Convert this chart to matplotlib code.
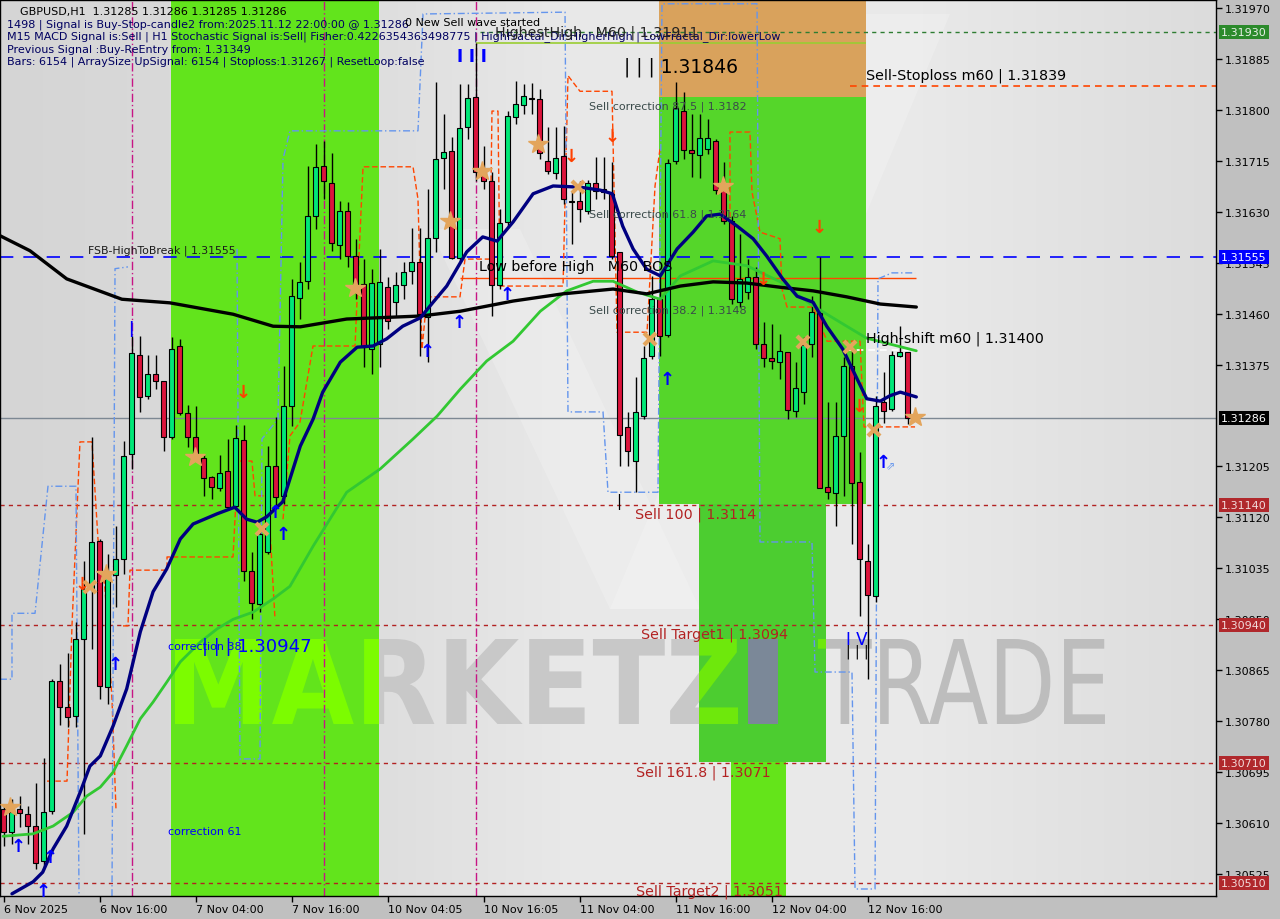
import numpy as np
import matplotlib
matplotlib.use("Agg")
import matplotlib.pyplot as plt
import matplotlib.transforms as mtransforms
from matplotlib.patches import Rectangle, PathPatch
from matplotlib.textpath import TextPath
from matplotlib.font_manager import FontProperties

# ------------------------------------------------------------------ data
time_label_bars = [0, 12, 24, 36, 48, 60, 72, 84, 96, 108]
time_labels = ["6 Nov 2025", "6 Nov 16:00", "7 Nov 04:00", "7 Nov 16:00", "10 Nov 04:05",
               "10 Nov 16:05", "11 Nov 04:00", "11 Nov 16:00", "12 Nov 04:00", "12 Nov 16:00"]

opens = [
    1.30633, 1.30595, 1.30633, 1.30625, 1.30605, 1.30547, 1.30630, 1.30847, 1.30804, 1.30789,
    1.30917, 1.31001, 1.31081, 1.30837, 1.31024, 1.31051, 1.31226, 1.31391, 1.31323, 1.31359,
    1.31348, 1.31254, 1.31406, 1.31294, 1.31254, 1.31219, 1.31187, 1.31169, 1.31197, 1.31139,
    1.31249, 1.31031, 1.30976, 1.31062, 1.31206, 1.31156, 1.31306, 1.31486, 1.31514, 1.31623,
    1.31706, 1.31678, 1.31574, 1.31631, 1.31556, 1.31509, 1.31401, 1.31409, 1.31504, 1.31479,
    1.31508, 1.31531, 1.31546, 1.31454, 1.31586, 1.31720, 1.31731, 1.31553, 1.31771, 1.31821,
    1.31696, 1.31681, 1.31508, 1.31613, 1.31788, 1.31808, 1.31820, 1.31818, 1.31715, 1.31695,
    1.31723, 1.31648, 1.31648, 1.31631, 1.31678, 1.31668, 1.31660, 1.31563, 1.31271, 1.31214,
    1.31289, 1.31389, 1.31484, 1.31424, 1.31715, 1.31798, 1.31733, 1.31725, 1.31735, 1.31748,
    1.31666, 1.31615, 1.31479, 1.31496, 1.31521, 1.31409, 1.31386, 1.31379, 1.31396, 1.31298,
    1.31329, 1.31409, 1.31461, 1.31171, 1.31161, 1.31256, 1.31373, 1.31179, 1.31047, 1.30989,
    1.31313, 1.31301, 1.31389, 1.31396]
highs = [
    1.30638, 1.30650, 1.30655, 1.30638, 1.30677, 1.30719, 1.30850, 1.30875, 1.30894, 1.30946,
    1.31047, 1.31254, 1.31084, 1.31059, 1.31106, 1.31247, 1.31423, 1.31423, 1.31391, 1.31391,
    1.31348, 1.31421, 1.31418, 1.31308, 1.31306, 1.31226, 1.31189, 1.31224, 1.31251, 1.31274,
    1.31274, 1.31062, 1.31106, 1.31239, 1.31287, 1.31373, 1.31518, 1.31546, 1.31706, 1.31743,
    1.31748, 1.31728, 1.31648, 1.31646, 1.31585, 1.31551, 1.31534, 1.31568, 1.31521, 1.31529,
    1.31546, 1.31603, 1.31603, 1.31668, 1.31846, 1.31793, 1.31755, 1.31843, 1.31843, 1.31911,
    1.31740, 1.31696, 1.31635, 1.31798, 1.31848, 1.31843, 1.31845, 1.31835, 1.31771, 1.31771,
    1.31773, 1.31665, 1.31681, 1.31683, 1.31721, 1.31721, 1.31713, 1.31563, 1.31296, 1.31354,
    1.31406, 1.31523, 1.31523, 1.31718, 1.31846, 1.31830, 1.31793, 1.31793, 1.31785, 1.31751,
    1.31713, 1.31623, 1.31593, 1.31551, 1.31538, 1.31446, 1.31443, 1.31426, 1.31396, 1.31379,
    1.31421, 1.31489, 1.31555, 1.31313, 1.31313, 1.31388, 1.31401, 1.31229, 1.31076, 1.31323,
    1.31363, 1.31398, 1.31439, 1.31396]
lows = [
    1.30572, 1.30575, 1.30603, 1.30575, 1.30533, 1.30533, 1.30625, 1.30774, 1.30770, 1.30770,
    1.30592, 1.30900, 1.30817, 1.30809, 1.30970, 1.31026, 1.31201, 1.31296, 1.31318, 1.31334,
    1.31231, 1.31251, 1.31291, 1.31238, 1.31214, 1.31156, 1.31151, 1.31164, 1.31134, 1.31134,
    1.31014, 1.30950, 1.30962, 1.31059, 1.31134, 1.31142, 1.31272, 1.31451, 1.31501, 1.31601,
    1.31651, 1.31564, 1.31551, 1.31538, 1.31484, 1.31371, 1.31359, 1.31371, 1.31434, 1.31456,
    1.31484, 1.31509, 1.31389, 1.31379, 1.31563, 1.31668, 1.31551, 1.31548, 1.31751, 1.31681,
    1.31668, 1.31456, 1.31501, 1.31605, 1.31776, 1.31793, 1.31793, 1.31718, 1.31693, 1.31685,
    1.31643, 1.31576, 1.31613, 1.31626, 1.31651, 1.31651, 1.31551, 1.31206, 1.31206, 1.31162,
    1.31284, 1.31384, 1.31389, 1.31421, 1.31710, 1.31718, 1.31688, 1.31686, 1.31726, 1.31660,
    1.31610, 1.31476, 1.31471, 1.31484, 1.31401, 1.31371, 1.31368, 1.31351, 1.31284, 1.31287,
    1.31309, 1.31388, 1.31169, 1.31151, 1.31106, 1.31156, 1.31076, 1.30955, 1.30850, 1.30979,
    1.31277, 1.31298, 1.31388, 1.31276]
closes = [
    1.30595, 1.30628, 1.30627, 1.30605, 1.30543, 1.30628, 1.30847, 1.30804, 1.30787, 1.30917,
    1.31001, 1.31079, 1.30839, 1.31029, 1.31051, 1.31222, 1.31394, 1.31321, 1.31359, 1.31348,
    1.31254, 1.31401, 1.31294, 1.31254, 1.31217, 1.31186, 1.31171, 1.31194, 1.31137, 1.31252,
    1.31031, 1.30977, 1.31092, 1.31206, 1.31154, 1.31306, 1.31489, 1.31513, 1.31623, 1.31705,
    1.31681, 1.31578, 1.31631, 1.31556, 1.31501, 1.31404, 1.31511, 1.31513, 1.31448, 1.31508,
    1.31529, 1.31546, 1.31459, 1.31586, 1.31718, 1.31730, 1.31553, 1.31770, 1.31820, 1.31696,
    1.31681, 1.31508, 1.31611, 1.31790, 1.31810, 1.31823, 1.31818, 1.31728, 1.31698, 1.31720,
    1.31651, 1.31646, 1.31635, 1.31678, 1.31665, 1.31663, 1.31556, 1.31257, 1.31231, 1.31296,
    1.31386, 1.31484, 1.31423, 1.31711, 1.31803, 1.31733, 1.31728, 1.31753, 1.31753, 1.31666,
    1.31615, 1.31484, 1.31518, 1.31521, 1.31409, 1.31386, 1.31381, 1.31398, 1.31299, 1.31336,
    1.31408, 1.31463, 1.31169, 1.31162, 1.31256, 1.31373, 1.31177, 1.31051, 1.30990, 1.31306,
    1.31298, 1.31391, 1.31396, 1.31286]

# moving averages (bar position, value)
ma_black_bar = [-0.44, 3.3, 7.9, 14.8, 20.8, 28.7, 33.7, 37.1, 42.9, 52.1, 57.1, 63.7, 69.9,
                76.2, 80.4, 84.6, 88.7, 92.9, 97.1, 101.2, 105.4, 109.6, 114.1]
ma_black_val = [1.31590, 1.31565, 1.31518, 1.31484, 1.31478, 1.31459, 1.31439, 1.31438, 1.31451,
                1.31456, 1.31464, 1.31481, 1.31493, 1.31501, 1.31493, 1.31506, 1.31513, 1.31511,
                1.31504, 1.31498, 1.31488, 1.31476, 1.31471]
ma_navy_bar = [1.06, 3.7, 4.9, 6.2, 7.9, 9.6, 10.8, 12.1, 13.7, 15.4, 17.1, 18.7, 20.4, 22.1, 23.7,
               26.7, 28.9, 30.4, 31.7, 32.9, 34.9, 37.1, 38.7, 39.9, 42.1, 44.2, 46.2, 47.9, 49.9,
               52.1, 53.7, 55.4, 57.9, 59.9, 61.7, 63.7, 66.2, 68.7, 72.1, 74.6, 76.1, 77.4, 78.7,
               80.4, 82.1, 84.2, 86.2, 87.9, 89.6, 91.7, 93.7, 95.4, 97.4, 99.2, 101.2, 102.9,
               104.9, 106.7, 107.9, 109.6, 110.8, 112.1, 114.1]
ma_navy_val = [1.30492, 1.30512, 1.30528, 1.30567, 1.30605, 1.30662, 1.30705, 1.30722, 1.30772,
               1.30834, 1.30929, 1.30996, 1.31034, 1.31084, 1.31109, 1.31126, 1.31137, 1.31117,
               1.31112, 1.31121, 1.31146, 1.31239, 1.31284, 1.31329, 1.31379, 1.31404, 1.31406,
               1.31418, 1.31439, 1.31453, 1.31479, 1.31506, 1.31563, 1.31588, 1.31581, 1.31613,
               1.31660, 1.31673, 1.31671, 1.31666, 1.31660, 1.31606, 1.31568, 1.31534, 1.31523,
               1.31568, 1.31596, 1.31623, 1.31626, 1.31606, 1.31585, 1.31556, 1.31518, 1.31489,
               1.31479, 1.31439, 1.31401, 1.31351, 1.31318, 1.31314, 1.31323, 1.31329, 1.31321]
ma_green_bar = [-0.06, 3.7, 6.2, 8.7, 10.4, 12.1, 13.7, 15.4, 17.1, 18.7, 20.4, 22.1, 24.6, 26.7,
                28.7, 31.2, 33.7, 35.8, 38.7, 42.9, 47.1, 51.2, 54.2, 57.1, 60.4, 63.7, 67.1, 70.4,
                73.7, 76.2, 79.2, 82.1, 84.6, 88.7, 92.9, 97.1, 101.2, 105.4, 107.9, 114.1]
ma_green_val = [1.30588, 1.30592, 1.30605, 1.30628, 1.30655, 1.30670, 1.30695, 1.30739, 1.30784,
                1.30812, 1.30845, 1.30879, 1.30912, 1.30934, 1.30950, 1.30962, 1.30984, 1.31005,
                1.31072, 1.31162, 1.31201, 1.31251, 1.31289, 1.31334, 1.31381, 1.31414, 1.31464,
                1.31498, 1.31514, 1.31514, 1.31496, 1.31484, 1.31523, 1.31548, 1.31540, 1.31513,
                1.31473, 1.31439, 1.31419, 1.31398]

# stepped channel lines (bar position, price)
orange_steps = [
    ([5.44, 7.94, 8.56, 9.56, 11.06, 11.81, 12.69, 13.56, 14.06],
     [1.30680, 1.30680, 1.30939, 1.31246, 1.31246, 1.31084, 1.31001, 1.30817, 1.30633]),
    ([14.94, 15.56, 15.81, 20.44, 20.44, 28.69, 29.31, 31.06, 31.44, 33.06, 33.94],
     [1.30939, 1.30939, 1.31032, 1.31032, 1.31054, 1.31054, 1.31214, 1.31214, 1.31156, 1.31156, 1.30950]),
    ([34.94, 35.81, 37.06, 38.69, 43.94, 44.31, 44.94, 51.19, 51.81, 52.31, 52.94, 57.06, 57.69,
      60.81, 61.06, 61.81, 62.06, 69.94, 70.56, 72.06, 76.06, 76.69, 80.44, 81.44, 82.06],
     [1.31117, 1.31256, 1.31279, 1.31406, 1.31406, 1.31518, 1.31705, 1.31705, 1.31651, 1.31401,
      1.31488, 1.31488, 1.31551, 1.31551, 1.31798, 1.31798, 1.31506, 1.31506, 1.31857, 1.31831,
      1.31831, 1.31429, 1.31429, 1.31673, 1.31735]),
    ([90.81, 90.81, 93.31, 93.56, 94.56, 97.06, 97.31, 97.94, 101.19, 102.94, 107.06, 107.56, 113.94],
     [1.31523, 1.31763, 1.31763, 1.31663, 1.31596, 1.31585, 1.31501, 1.31471, 1.31471, 1.31414,
      1.31414, 1.31271, 1.31271]),
]
blue_steps = [
    ([-0.44, 1.06, 1.06, 3.94, 5.56, 9.06, 9.44],
     [1.30850, 1.30850, 1.30960, 1.30960, 1.31172, 1.31172, 1.30488]),
    ([13.56, 13.94, 15.56], [1.30488, 1.31535, 1.31538]),
    ([29.19, 29.56, 32.06, 32.31, 34.31, 34.94, 35.81, 51.81, 52.44, 70.19, 70.56, 74.94, 75.56,
      81.81, 82.31, 94.19, 94.56, 101.06, 101.44, 106.06, 106.44, 108.94, 109.31, 111.06, 113.94],
     [1.31568, 1.30717, 1.30717, 1.31251, 1.31284, 1.31718, 1.31765, 1.31765, 1.31960, 1.31963,
      1.31296, 1.31296, 1.31162, 1.31162, 1.31977, 1.31977, 1.31079, 1.31079, 1.30862, 1.30862,
      1.30500, 1.30500, 1.31518, 1.31528, 1.31528]),
]

buy_arrow_bar = [1.81, 5.81, 4.94, 13.94, 33.94, 34.94, 52.94, 56.94, 62.94, 82.94, 109.94]
buy_arrow_val = [1.30572, 1.30553, 1.30497, 1.30875, 1.31129, 1.31092, 1.31398, 1.31446, 1.31493,
                 1.31351, 1.31212]
sell_arrow_bar = [9.81, 29.94, 70.94, 76.06, 94.94, 101.94, 106.94]
sell_arrow_val = [1.31009, 1.31329, 1.31723, 1.31756, 1.31518, 1.31605, 1.31306]
star_bar = [0.81, 12.81, 23.94, 43.94, 55.81, 59.81, 66.81, 89.94, 113.94]
star_val = [1.30637, 1.31026, 1.31221, 1.31503, 1.31615, 1.31698, 1.31743, 1.31673, 1.31288]
cross_bar = [10.81, 32.31, 71.81, 80.81, 99.94, 105.81, 108.81]
cross_val = [1.31004, 1.31101, 1.31671, 1.31418, 1.31413, 1.31404, 1.31266]

wave_marker_bars = [16, 40, 59]

fsb_level = 1.31555
last_price = 1.31286
sell_levels = [1.31140, 1.30940, 1.30710, 1.30510]
highest_high = 1.31911
top_level = 1.31930
sell_stoploss = 1.31839
low_before_high = 1.31520
high_shift = 1.31400
stoploss = 1.31267

zone1_bars = (20.94, 46.94)
zone2_bars = (81.94, 107.81)
zone2_orange = (1.31822, 1.31985)
zone2_green = (1.31142, 1.31822)
zone3_bars = (86.94, 102.81)
zone3_range = (1.30712, 1.31142)
zone4_bars = (90.94, 97.81)

y_ticks = [1.30525, 1.30610, 1.30695, 1.30780, 1.30865, 1.30950, 1.31035, 1.31120, 1.31205,
           1.31375, 1.31460, 1.31545, 1.31630, 1.31715, 1.31800, 1.31885, 1.31970]
price_boxes = [(1.31930, '#2b8a2b', '#e8f0e8'), (1.31555, '#0000ff', '#ffffff'),
               (1.31286, '#000000', '#ffffff'), (1.31140, '#b0282c', '#f2dada'),
               (1.30940, '#b0282c', '#f2dada'), (1.30710, '#b0282c', '#f2dada'),
               (1.30510, '#b0282c', '#f2dada')]

# ------------------------------------------------------------------ figure
W, H = 1280, 920
fig = plt.figure(figsize=(W / 100, H / 100), dpi=100, facecolor='#c0c0c0')
ax = fig.add_axes([0 / W, 23 / H, 1216 / W, 896 / H])
X0, X1 = -0.4375, 151.56
Y0, Y1 = 1.304883, 1.319833
ax.set_xlim(X0, X1)
ax.set_ylim(Y0, Y1)

def px2data(px, py):
    return (px - 3.5) / 8.0, Y1 - (py - 1) * (Y1 - Y0) / 896.0

def ptext(px, py, s, **kw):
    kw.setdefault('va', 'center')
    kw.setdefault('ha', 'left')
    kw.setdefault('family', 'DejaVu Sans')
    return fig.text(px / W, 1 - py / H, s, **kw)

# background gradient
stops_x = [0, 380, 560, 900, 1216]
stops_g = [213, 222, 232, 234, 220]
gx = np.arange(1216)
g = np.interp(gx, stops_x, stops_g) / 255.0
grad = np.repeat(np.dstack([g, g, g]), 2, axis=0)
ax.imshow(grad, extent=[X0, X1, Y0, Y1], aspect='auto', zorder=0, interpolation='bilinear')

# faint logo strokes
for poly in [[(430, 230), (520, 230), (700, 610), (610, 610)],
             [(610, 610), (700, 610), (950, 15), (860, 15)]]:
    pts = [px2data(*p) for p in poly]
    ax.add_patch(plt.Polygon(pts, closed=True, fc='white', ec='none', alpha=0.2, zorder=0.5))

# zones
ax.axvspan(*zone1_bars, color='#62e41c', zorder=1.5, lw=0)
ax.add_patch(Rectangle((zone2_bars[0], zone2_orange[0]), zone2_bars[1] - zone2_bars[0],
                       zone2_orange[1] - zone2_orange[0], fc='#d9a25c', ec='none', zorder=1.5))
ax.add_patch(Rectangle((zone2_bars[0], zone2_green[0]), zone2_bars[1] - zone2_bars[0],
                       zone2_green[1] - zone2_green[0], fc='#55d62a', ec='none', zorder=1.5))
ax.add_patch(Rectangle((zone3_bars[0], zone3_range[0]), zone3_bars[1] - zone3_bars[0],
                       zone3_range[1] - zone3_range[0], fc='#4ccd30', ec='none', zorder=1.5))
ax.add_patch(Rectangle((zone4_bars[0], Y0), zone4_bars[1] - zone4_bars[0],
                       zone3_range[0] - Y0, fc='#64e41a', ec='none', zorder=1.5))

# watermark
def word(s, x0, x1, ybase, cap, weight, color, z, clip=None):
    tp = TextPath((0, 0), s, size=1, prop=FontProperties(family='DejaVu Sans', weight=weight))
    ext = tp.get_extents()
    tr = mtransforms.Affine2D().translate(-ext.x0, -ext.y0).scale((x1 - x0) / ext.width,
                                                                    cap / ext.height).translate(x0, H - ybase)
    p = PathPatch(tp, transform=tr, fc=color, ec='none', zorder=z)
    ax.add_artist(p)
    if clip is None:
        clip = Rectangle((X0, Y0), X1 - X0, Y1 - Y0)
    clip.set_transform(ax.transData)
    p.set_clip_path(clip)

zone1_clip = lambda: Rectangle((zone1_bars[0], Y0), zone1_bars[1] - zone1_bars[0], Y1 - Y0)
zone3_clip = lambda: Rectangle((zone3_bars[0], zone3_range[0]), zone3_bars[1] - zone3_bars[0],
                               zone3_range[1] - zone3_range[0])
word("MARKETZ", 175, 738, 725, 85, 'bold', '#c8c8c8', 1.2)
word("TRADE", 818, 1105, 725, 85, 'normal', '#bdbdbd', 1.2)
word("MARKETZ", 175, 738, 725, 85, 'bold', '#7cfc00', 1.6, zone1_clip())
word("MARKETZ", 175, 738, 725, 85, 'bold', '#6ee80c', 1.6, zone3_clip())
word("TRADE", 818, 1105, 725, 85, 'normal', '#6ee80c', 1.6, zone3_clip())
word("I", 748, 778, 725, 85, 'bold', '#7b8898', 1.7)

# horizontal levels
ax.axhline(last_price, color='#7d8893', lw=1, zorder=2.0)
ax.axhline(fsb_level, color='#0000ff', lw=1.2, ls=(0, (8, 6)), zorder=2.2)
for lv in sell_levels:
    ax.axhline(lv, color='#b22222', lw=1, ls=(0, (3, 3)), zorder=2.2)
ax.hlines(top_level, 59.5, X1, color='#2e7d32', lw=1, ls=(0, (3, 3)), zorder=2.2)
ax.hlines(highest_high, 59.0, 107.8, color='#9acd32', lw=1.2, zorder=2.3)
ax.hlines(sell_stoploss, 105.8, X1, color='#ff4500', lw=1.2, ls=(0, (4, 3)), zorder=2.3)
ax.hlines(low_before_high, 57.0, 114.0, color='#ff4500', lw=1, zorder=2.3)
ax.hlines(high_shift, 105.2, 114.0, color='white', lw=1.2, ls=(0, (4, 3)), zorder=2.3)

for b in wave_marker_bars:
    ax.axvline(b, color='#c71585', lw=1, ls=(0, (6, 2, 1, 2)), zorder=2.2)

for xs, ys in orange_steps:
    ax.plot(xs, ys, color='#ff4500', lw=1, ls=(0, (4, 2)), zorder=2.4)
for xs, ys in blue_steps:
    ax.plot(xs, ys, color='#6495ed', lw=1, ls=(0, (5, 2, 1, 2)), zorder=2.4)

# candles
o = np.array(opens); h = np.array(highs); l = np.array(lows); c = np.array(closes)
idx = np.arange(len(o))
up = c >= o
ax.vlines(idx, l, h, color='black', lw=1, zorder=3)
bottoms = np.minimum(o, c)
heights = np.maximum(np.abs(c - o), 0.00002)
ax.bar(idx, heights, bottom=bottoms, width=0.62,
       color=np.where(up, '#00e878', '#dc143c'), edgecolor='black', linewidth=0.8, zorder=3.1)

# moving averages
ax.plot(ma_green_bar, ma_green_val, color='#32c832', lw=2.0, zorder=3.5, solid_capstyle='round',
        solid_joinstyle='round')
ax.plot(ma_black_bar, ma_black_val, color='black', lw=2.4, zorder=3.6, solid_capstyle='round',
        solid_joinstyle='round')
ax.plot(ma_navy_bar, ma_navy_val, color='#000080', lw=2.4, zorder=3.7, solid_capstyle='round',
        solid_joinstyle='round')

# signal markers
for b, v in zip(buy_arrow_bar, buy_arrow_val):
    ax.text(b, v, '\u2191', color='#0000ff', fontsize=13, fontweight='bold',
            ha='center', va='center', zorder=5)
for b, v in zip(sell_arrow_bar, sell_arrow_val):
    ax.text(b, v, '\u2193', color='#ff4000', fontsize=13, fontweight='bold',
            ha='center', va='center', zorder=5)
ax.plot(star_bar, star_val, ls='none', marker='*', ms=15, color='#e3a55c', zorder=5)
ax.plot(cross_bar, cross_val, ls='none', marker='x', ms=8, mew=3, color='#e3a55c', zorder=5)

# axes styling
for s in ax.spines.values():
    s.set_color('black'); s.set_linewidth(1)
ax.yaxis.tick_right()
ax.set_yticks(y_ticks)
ax.set_yticklabels([f"{v:.5f}" for v in y_ticks])
ax.tick_params(axis='y', labelsize=8, length=4, width=1, pad=2, colors='black')
ax.set_xticks(time_label_bars)
ax.set_xticklabels(time_labels)
ax.tick_params(axis='x', labelsize=8, length=4, width=1, pad=2, colors='black')
for lbl in ax.get_xticklabels():
    lbl.set_ha('left')

tr_box = mtransforms.blended_transform_factory(ax.transAxes, ax.transData)
for v, fc, tc in price_boxes:
    ax.text(1.0 + 5 / 1216, v, f"{v:.5f}", transform=tr_box, ha='left', va='center',
            fontsize=8, color=tc, clip_on=False, zorder=10,
            bbox=dict(boxstyle='square,pad=0.18', fc=fc, ec='none'))

# ------------------------------------------------------------------ texts
hdr = dict(fontsize=8, color='black')
ptext(20, 12, "GBPUSD,H1  1.31285 1.31286 1.31285 1.31286", **hdr)
ptext(7, 25, "1498 | Signal is Buy-Stop-candle2 from:2025.11.12 22:00:00 @ 1.31286", color='#000060', fontsize=8)
ptext(7, 37, "M15 MACD Signal is:Sell | H1 Stochastic Signal is:Sell| Fisher:0.4226354363498775 | "
             "HighFractal_Dir:HigherHigh | LowFractal_Dir:lowerLow", color='#000060', fontsize=8)
ptext(7, 50, "Previous Signal :Buy-ReEntry from: 1.31349", color='#000060', fontsize=8)
ptext(7, 62, "Bars: 6154 | ArraySize UpSignal: 6154 | Stoploss:1.31267 | ResetLoop:false", color='#000060', fontsize=8)
ptext(405, 23, "0 New Sell wave started", fontsize=8, color='black')
ptext(495, 33, "HighestHigh   M60 | 1.31911", fontsize=10.3, color='#222222')
ptext(457, 57, "I I I", fontsize=12, color='#0000ff', fontweight='bold')
ptext(624, 67, "| | | 1.31846", fontsize=13.5, color='black')
ptext(866, 76, "Sell-Stoploss m60 | 1.31839", fontsize=10.3, color='black')
gray_t = dict(fontsize=8, color='#3a4a4a')
ptext(589, 107, "Sell correction 87.5 | 1.3182", **gray_t)
ptext(589, 215, "Sell correction 61.8 | 1.3164", **gray_t)
ptext(589, 311, "Sell correction 38.2 | 1.3148", **gray_t)
ptext(88, 251, "FSB-HighToBreak | 1.31555", fontsize=7.8, color='#1a1a1a')
ptext(479, 267, "Low before High   M60 BOS", fontsize=10.3, color='black')
ptext(866, 339, "High-shift m60 | 1.31400", fontsize=10.3, color='black')
red_t = dict(fontsize=10.3, color='#b22222')
ptext(635, 515, "Sell 100 | 1.3114", **red_t)
ptext(641, 635, "Sell Target1 | 1.3094", **red_t)
ptext(636, 773, "Sell 161.8 | 1.3071", **red_t)
ptext(636, 892, "Sell Target2 | 1.3051", **red_t)
ptext(168, 647, "correction 38", fontsize=8, color='#0000ff')
ptext(202, 647, "| | | 1.30947", fontsize=13, color='#0000ff')
ptext(168, 832, "correction 61", fontsize=8, color='#0000ff')
ptext(128, 329, "|", fontsize=11, color='#0000ff', fontweight='bold')
ptext(616, 502, "|", fontsize=11, color='black')
ptext(846, 640, "I V", fontsize=12, color='#0000ff')
ptext(846, 652, "| | |", fontsize=10, color='black')
ptext(886, 467, "\u21d7", fontsize=8, color='#6495ed')

fig.savefig("out.png", dpi=100, facecolor=fig.get_facecolor())
